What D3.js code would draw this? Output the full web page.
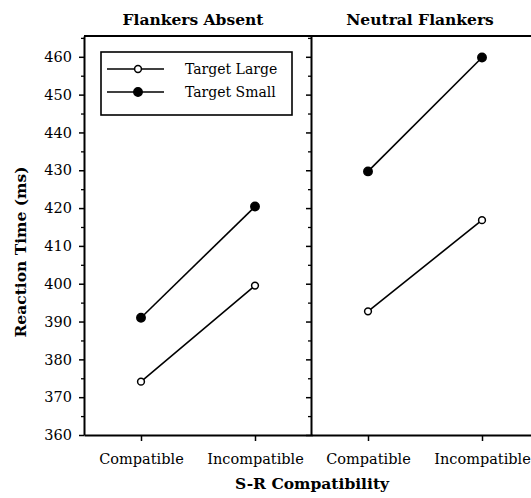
<!DOCTYPE html>
<html>
<head>
<meta charset="utf-8">
<script src="https://cdn.jsdelivr.net/npm/d3@7"></script>
<style>
  body { margin: 0; background: #fff; }
  svg { display: block; font-family: "DejaVu Serif", "Liberation Serif", serif; }
  .axis path, .axis line { stroke: #000; }
  .axis text { font-family: "DejaVu Serif", "Liberation Serif", serif; font-size: 14.5px; fill: #000; }
</style>
</head>
<body>
<svg width="531" height="498"></svg>
<script>
// DATA

var conditions = ["Compatible", "Incompatible"];
var panelTitles = ["Flankers Absent", "Neutral Flankers"];
var seriesNames = ["Target Large", "Target Small"];
var targetLarge = [[374.1, 399.5], [392.7, 416.8]];   // one pair per panel
var targetSmall = [[391.0, 420.4], [429.7, 459.8]];
var majorTicks = [360, 370, 380, 390, 400, 410, 420, 430, 440, 450, 460];
var minorTicks = [365, 375, 385, 395, 405, 415, 425, 435, 445, 455, 465];

// SETUP

var svg = d3.select("svg"),
    top0 = 36, bottom0 = 435,
    panelW = 228,
    panelX = [84, 311];

var y = d3.scaleLinear().domain([360, 465.5]).range([bottom0, top0]);
var x = d3.scalePoint().domain(conditions).range([0, panelW]).padding(0.5);

var line = d3.line()
    .x(function (d, i) { return x(conditions[i]); })
    .y(function (d) { return y(d); });

// top border across both panels
svg.append("line")
    .attr("x1", panelX[0]).attr("x2", panelX[1] + panelW)
    .attr("y1", top0).attr("y2", top0)
    .attr("stroke", "#000").attr("stroke-width", 1.8);

panelTitles.forEach(function (title, p) {
    var g = svg.append("g")
        .attr("transform", "translate(" + panelX[p] + ",0)");

    // minor y ticks
    g.append("g")
        .attr("class", "axis")
        .call(d3.axisLeft(y).tickValues(minorTicks).tickSize(3).tickSizeOuter(0).tickFormat(""))
        .call(function (a) { a.select(".domain").remove(); })
        .selectAll("line").attr("stroke-width", 1.3);

    // major y ticks + axis line
    var ya = g.append("g")
        .attr("class", "axis")
        .call(d3.axisLeft(y).tickValues(majorTicks).tickSize(5).tickSizeOuter(0)
              .tickPadding(7)
              .tickFormat(p == 0 ? d3.format("d") : ""));
    ya.select(".domain").attr("stroke-width", 2);
    ya.selectAll("line").attr("stroke-width", 1.5);

    // x axis
    var xa = g.append("g")
        .attr("class", "axis")
        .attr("transform", "translate(0," + bottom0 + ")")
        .call(d3.axisBottom(x).tickSize(6).tickSizeOuter(0).tickPadding(13));
    xa.select(".domain").attr("stroke-width", 2);
    xa.selectAll("line").attr("stroke-width", 1.5);

    // title
    g.append("text")
        .attr("x", panelW / 2 - 5)
        .attr("y", 25)
        .attr("text-anchor", "middle")
        .style("font-weight", "bold")
        .style("font-size", "15.5px")
        .text(title);

    // lines and markers
    var sets = [targetLarge[p], targetSmall[p]];
    sets.forEach(function (vals, s) {
        g.append("path")
            .attr("d", line(vals))
            .attr("fill", "none")
            .attr("stroke", "#000")
            .attr("stroke-width", 1.6);
        g.selectAll(".pt" + s)
            .data(vals)
            .enter().append("circle")
            .attr("class", "pt" + s)
            .attr("cx", function (d, i) { return x(conditions[i]); })
            .attr("cy", function (d) { return y(d); })
            .attr("r", s == 0 ? 3.4 : 4.2)
            .attr("fill", s == 0 ? "#fff" : "#000")
            .attr("stroke", "#000")
            .attr("stroke-width", 1.5);
    });
});

// LEGEND

var lg = svg.append("g").attr("transform", "translate(101,52)");
lg.append("rect")
    .attr("width", 191).attr("height", 63)
    .attr("fill", "#fff").attr("stroke", "#000").attr("stroke-width", 1.6);

seriesNames.forEach(function (name, s) {
    var ly = 17 + s * 23;
    lg.append("line")
        .attr("x1", 6).attr("x2", 63)
        .attr("y1", ly).attr("y2", ly)
        .attr("stroke", "#000").attr("stroke-width", 1.6);
    lg.append("circle")
        .attr("cx", 37).attr("cy", ly)
        .attr("r", s == 0 ? 3.4 : 4.2)
        .attr("fill", s == 0 ? "#fff" : "#000")
        .attr("stroke", "#000").attr("stroke-width", 1.5);
    lg.append("text")
        .attr("x", 84).attr("y", ly)
        .attr("dy", "0.35em")
        .style("font-size", "14px")
        .text(name);
});

// AXIS TITLES

svg.append("text")
    .attr("transform", "translate(26,252) rotate(-90)")
    .attr("text-anchor", "middle")
    .style("font-weight", "bold")
    .style("font-size", "15.5px")
    .text("Reaction Time (ms)");

svg.append("text")
    .attr("x", 312).attr("y", 489)
    .attr("text-anchor", "middle")
    .style("font-weight", "bold")
    .style("font-size", "15.5px")
    .text("S-R Compatibility");
</script>
</body>
</html>
